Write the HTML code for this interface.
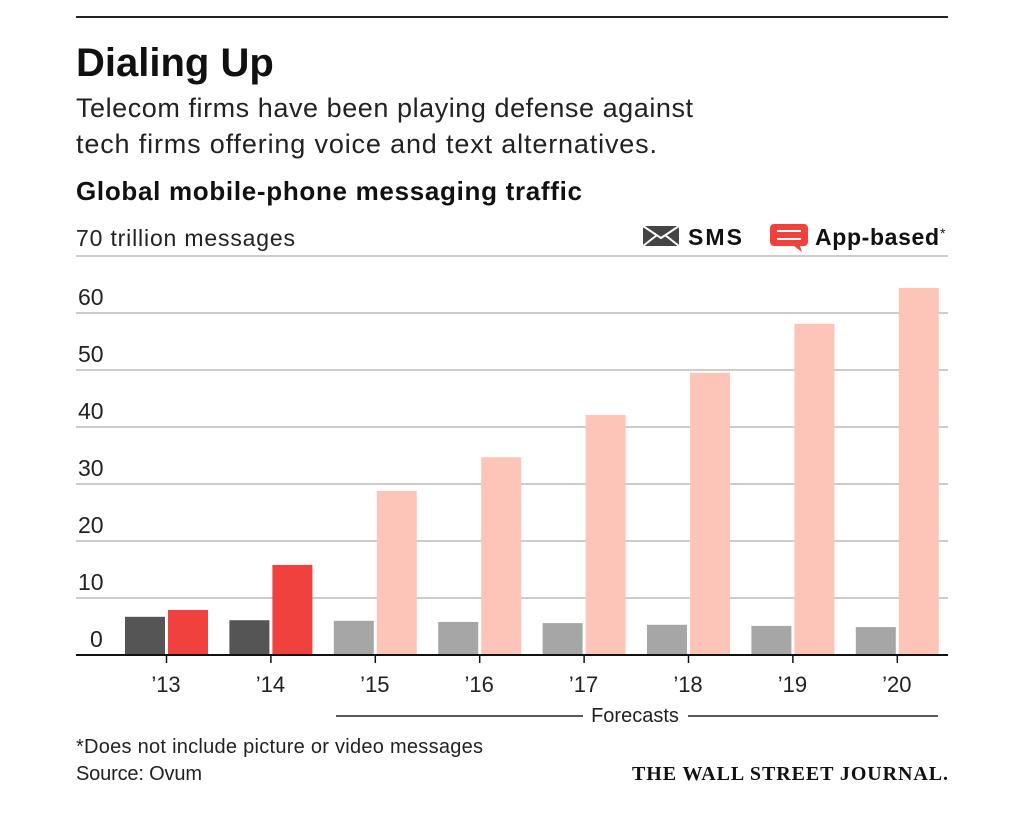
<!DOCTYPE html>
<html><head><meta charset="utf-8"><style>
body{margin:0;background:#fff;width:1024px;height:818px;overflow:hidden;font-family:"Liberation Sans",sans-serif;}
</style></head><body>
<svg width="1024" height="818" xmlns="http://www.w3.org/2000/svg">
<line x1="76" y1="17" x2="948" y2="17" stroke="#222" stroke-width="2"/>
<text x="76" y="76" font-size="40" font-weight="bold" fill="#111">Dialing Up</text>
<text x="76" y="117" font-size="27" fill="#222" textLength="617">Telecom firms have been playing defense against</text>
<text x="76" y="153" font-size="27" fill="#222" textLength="581">tech firms offering voice and text alternatives.</text>
<text x="76" y="200" font-size="26" font-weight="bold" fill="#111" textLength="506">Global mobile-phone messaging traffic</text>
<text x="76" y="246" font-size="23" fill="#222" textLength="219">70 trillion messages</text>
<g>
<rect x="643" y="226" width="36" height="20" fill="#444"/>
<path d="M643 226 L661 238 L679 226 M643 246 L657 235 M679 246 L665 235" stroke="#fff" stroke-width="2" fill="none"/>
<text x="688" y="245" font-size="23" font-weight="bold" fill="#111" textLength="54">SMS</text>
</g>
<g>
<rect x="770" y="224" width="38" height="22" rx="4" fill="#f0413f"/>
<path d="M794 246 L802 252 L800 246 Z" fill="#f0413f"/>
<line x1="777" y1="231" x2="801" y2="231" stroke="#fff" stroke-width="2"/>
<line x1="777" y1="239" x2="801" y2="239" stroke="#fff" stroke-width="2"/>
<text x="815" y="245" font-size="23" font-weight="bold" fill="#111" textLength="124">App-based</text>
<text x="940" y="238" font-size="14" fill="#111">*</text>
</g>
<g id="grid"></g><g id="bars"></g><g id="xl"></g>
<line x1="76" y1="655" x2="948" y2="655" stroke="#111" stroke-width="2"/>
<g>
<line x1="336" y1="716" x2="583" y2="716" stroke="#222" stroke-width="1.5"/>
<line x1="688" y1="716" x2="938" y2="716" stroke="#222" stroke-width="1.5"/>
<text x="635" y="722" font-size="20" fill="#222" text-anchor="middle">Forecasts</text>
</g>
<text x="76" y="753" font-size="20" fill="#222" textLength="407">*Does not include picture or video messages</text>
<text x="76" y="780" font-size="20" fill="#222" textLength="126">Source: Ovum</text>
<text x="948" y="780" font-size="20" font-family="Liberation Serif,serif" font-weight="bold" fill="#111" text-anchor="end" textLength="316">THE WALL STREET JOURNAL.</text>
</svg>
<script>
const categories=["’13","’14","’15","’16","’17","’18","’19","’20"];
const smsValues=[6.7,6.1,6.0,5.8,5.6,5.3,5.1,4.9];
const appValues=[7.9,15.8,28.8,34.7,42.1,49.5,58.1,64.4];
const yTicks=[0,10,20,30,40,50,60,70];
const forecastFrom=2;
const NS="http://www.w3.org/2000/svg";
const y=v=>655-v*5.7;
const x0=i=>125+i*104.4;
function mk(t,a,p){const e=document.createElementNS(NS,t);for(const k in a)e.setAttribute(k,a[k]);p.appendChild(e);return e;}
const grid=document.getElementById('grid'),bars=document.getElementById('bars'),xl=document.getElementById('xl');
yTicks.forEach(t=>{
 if(t>0){const l=mk('line',{x1:76,x2:948,y1:y(t),y2:y(t),stroke:'#bbb','stroke-width':1.5},grid);
 
 }
 if(t<70){const tx=mk('text',{x:t===0?90:78,y:y(t)-8,'font-size':23,fill:'#222'},grid);tx.textContent=t;
 
 }
});
categories.forEach((c,i)=>{
 const f=i>=forecastFrom;
 const s=mk('rect',{x:x0(i),y:y(smsValues[i]),width:40,height:655-y(smsValues[i]),fill:f?'#a6a6a6':'#555'},bars);
 
 
 const a=mk('rect',{x:x0(i)+43,y:y(appValues[i]),width:40,height:655-y(appValues[i]),fill:f?'#fcc5b8':'#f0413f'},bars);
 
 
 const tk=mk('line',{x1:x0(i)+41.5,x2:x0(i)+41.5,y1:655,y2:663,stroke:'#111','stroke-width':1.5},xl);
 
 
 const t=mk('text',{x:x0(i)+41,y:692,'font-size':22,fill:'#222','text-anchor':'middle'},xl);t.textContent=c;
 
 
});
</script>
</body></html>
